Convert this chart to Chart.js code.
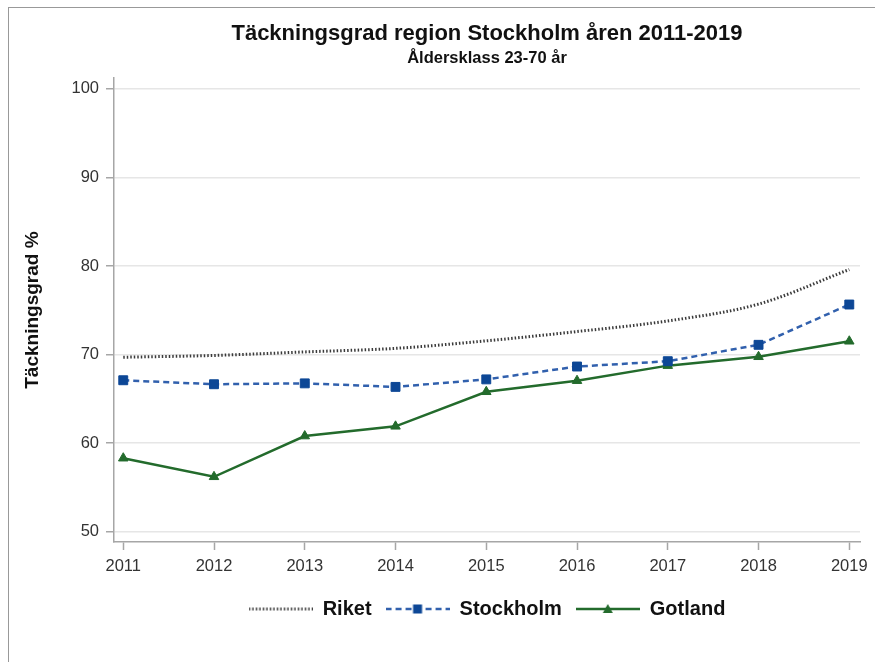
<!DOCTYPE html>
<html lang="sv">
<head>
    <meta charset="UTF-8">
    <title>Täckningsgrad region Stockholm</title>
    <script src="https://cdnjs.cloudflare.com/ajax/libs/Chart.js/4.4.1/chart.umd.min.js"></script>
    <style>
        html, body {
            margin: 0;
            padding: 0;
            background: #fff;
            overflow: hidden;
        }
        #frame {
            position: absolute;
            left: 8px;
            top: 7px;
            width: 900px;
            height: 700px;
            border-left: 1.5px solid #999;
            border-top: 1.5px solid #999;
        }
        #wrap {
            position: absolute;
            left: 0;
            top: 0;
            width: 875px;
            height: 662px;
        }
    </style>
</head>
<body>
    <div id="frame"></div>
    <div id="wrap"><canvas id="chart" width="875" height="662"></canvas></div>

    <script>
        // Data
        const years = [2011, 2012, 2013, 2014, 2015, 2016, 2017, 2018, 2019];
        const riket = [69.7, 69.9, 70.3, 70.7, 71.55, 72.6, 73.8, 75.7, 79.6];
        const stockholm = [67.1, 66.65, 66.75, 66.35, 67.2, 68.65, 69.25, 71.1, 75.65];
        const gotland = [58.3, 56.2, 60.8, 61.9, 65.8, 67.05, 68.75, 69.75, 71.5];
        const yTicks = [50, 60, 70, 80, 90, 100];

        const FONT = "'Liberation Sans', Arial, sans-serif";
        const GREY_TXT = "#333";
        const BLUE_LINE = "#3160ad";
        const BLUE_MARK = "#0d4796";
        const GREEN = "#236b2c";

        function toPoints(values) {
            return years.map((y, i) => ({ x: y, y: values[i] }));
        }

        // little legend samples: line + marker, like the original
        function legendSample(kind) {
            const c = document.createElement("canvas");
            c.width = 64;
            c.height = 14;
            const g = c.getContext("2d");
            g.lineCap = "butt";
            if (kind === "riket") {
                g.strokeStyle = "#444";
                g.lineWidth = 3;
                g.setLineDash([1.5, 2]);
            } else if (kind === "stockholm") {
                g.strokeStyle = BLUE_LINE;
                g.lineWidth = 2.5;
                g.setLineDash([6, 4]);
            } else {
                g.strokeStyle = GREEN;
                g.lineWidth = 2.5;
            }
            g.beginPath();
            g.moveTo(0, 7);
            g.lineTo(64, 7);
            g.stroke();
            g.setLineDash([]);
            if (kind === "stockholm") {
                g.fillStyle = BLUE_MARK;
                g.fillRect(27.5, 2.5, 9, 9);
            } else if (kind === "gotland") {
                g.fillStyle = GREEN;
                g.beginPath();
                g.moveTo(32, 2);
                g.lineTo(37, 11);
                g.lineTo(27, 11);
                g.closePath();
                g.fill();
            }
            return c;
        }
        const samples = [legendSample("riket"), legendSample("stockholm"), legendSample("gotland")];

        const ctx = document.getElementById("chart").getContext("2d");
        const chart = new Chart(ctx, {
            type: "line",
            data: {
                datasets: [
                    {
                        label: "Riket",
                        data: toPoints(riket),
                        borderColor: "#3a3a3a",
                        borderWidth: 3,
                        borderDash: [1.5, 2],
                        borderCapStyle: "butt",
                        pointRadius: 0,
                        cubicInterpolationMode: "monotone",
                        fill: false
                    },
                    {
                        label: "Stockholm",
                        data: toPoints(stockholm),
                        borderColor: BLUE_LINE,
                        borderWidth: 2.5,
                        borderDash: [6, 4],
                        pointStyle: "rect",
                        pointRadius: 6.3,
                        pointBackgroundColor: BLUE_MARK,
                        pointBorderColor: BLUE_MARK,
                        pointBorderWidth: 1,
                        tension: 0,
                        fill: false
                    },
                    {
                        label: "Gotland",
                        data: toPoints(gotland),
                        borderColor: GREEN,
                        borderWidth: 2.5,
                        pointStyle: "triangle",
                        pointRadius: 5.5,
                        pointBackgroundColor: GREEN,
                        pointBorderColor: GREEN,
                        pointBorderWidth: 1,
                        tension: 0,
                        fill: false
                    }
                ]
            },
            options: {
                responsive: false,
                animation: false,
                layout: {
                    padding: { left: 17, right: 15, top: 21, bottom: 33 }
                },
                plugins: {
                    tooltip: { enabled: false },
                    title: {
                        display: true,
                        text: "Täckningsgrad region Stockholm åren 2011-2019",
                        fullSize: false,
                        color: "#111",
                        font: { family: FONT, size: 22, weight: "bold" },
                        padding: { top: 0, bottom: 1 }
                    },
                    subtitle: {
                        display: true,
                        text: "Åldersklass 23-70 år",
                        fullSize: false,
                        color: "#111",
                        font: { family: FONT, size: 16.5, weight: "bold" },
                        padding: { top: 0, bottom: 10 }
                    },
                    legend: {
                        position: "bottom",
                        fullSize: false,
                        labels: {
                            usePointStyle: true,
                            pointStyleWidth: 64,
                            boxHeight: 14,
                            padding: 14,
                            color: "#111",
                            font: { family: FONT, size: 20, weight: "bold" },
                            generateLabels: function (ch) {
                                const items = Chart.defaults.plugins.legend.labels.generateLabels(ch);
                                items.forEach((it, i) => {
                                    it.pointStyle = samples[i];
                                });
                                return items;
                            }
                        }
                    }
                },
                scales: {
                    x: {
                        type: "linear",
                        min: 2010.898,
                        max: 2019.118,
                        afterBuildTicks: s => { s.ticks = years.map(v => ({ value: v })); },
                        afterFit: s => { s.height = 43; },
                        border: { color: "#a6a6a6", width: 1.5 },
                        grid: {
                            drawOnChartArea: false,
                            tickLength: 8,
                            tickColor: "#a6a6a6",
                            tickWidth: 1.5
                        },
                        ticks: {
                            autoSkip: false,
                            maxRotation: 0,
                            padding: 7,
                            color: GREY_TXT,
                            font: { family: FONT, size: 16.5 },
                            callback: v => String(v)
                        }
                    },
                    y: {
                        min: 48.84,
                        max: 101.2,
                        afterBuildTicks: s => { s.ticks = yTicks.map(v => ({ value: v })); },
                        afterFit: s => { s.width = 97; },
                        border: { color: "#a6a6a6", width: 1.5 },
                        grid: {
                            color: "#e6e6e6",
                            lineWidth: 1.5,
                            tickLength: 8,
                            tickColor: "#a6a6a6",
                            tickWidth: 1.5
                        },
                        ticks: {
                            padding: 7,
                            color: GREY_TXT,
                            font: { family: FONT, size: 16.5 }
                        },
                        title: {
                            display: true,
                            text: "Täckningsgrad %",
                            color: "#111",
                            font: { family: FONT, size: 19, weight: "bold" },
                            padding: { top: 4, bottom: 4 }
                        }
                    }
                }
            }
        });
    </script>
</body>
</html>
